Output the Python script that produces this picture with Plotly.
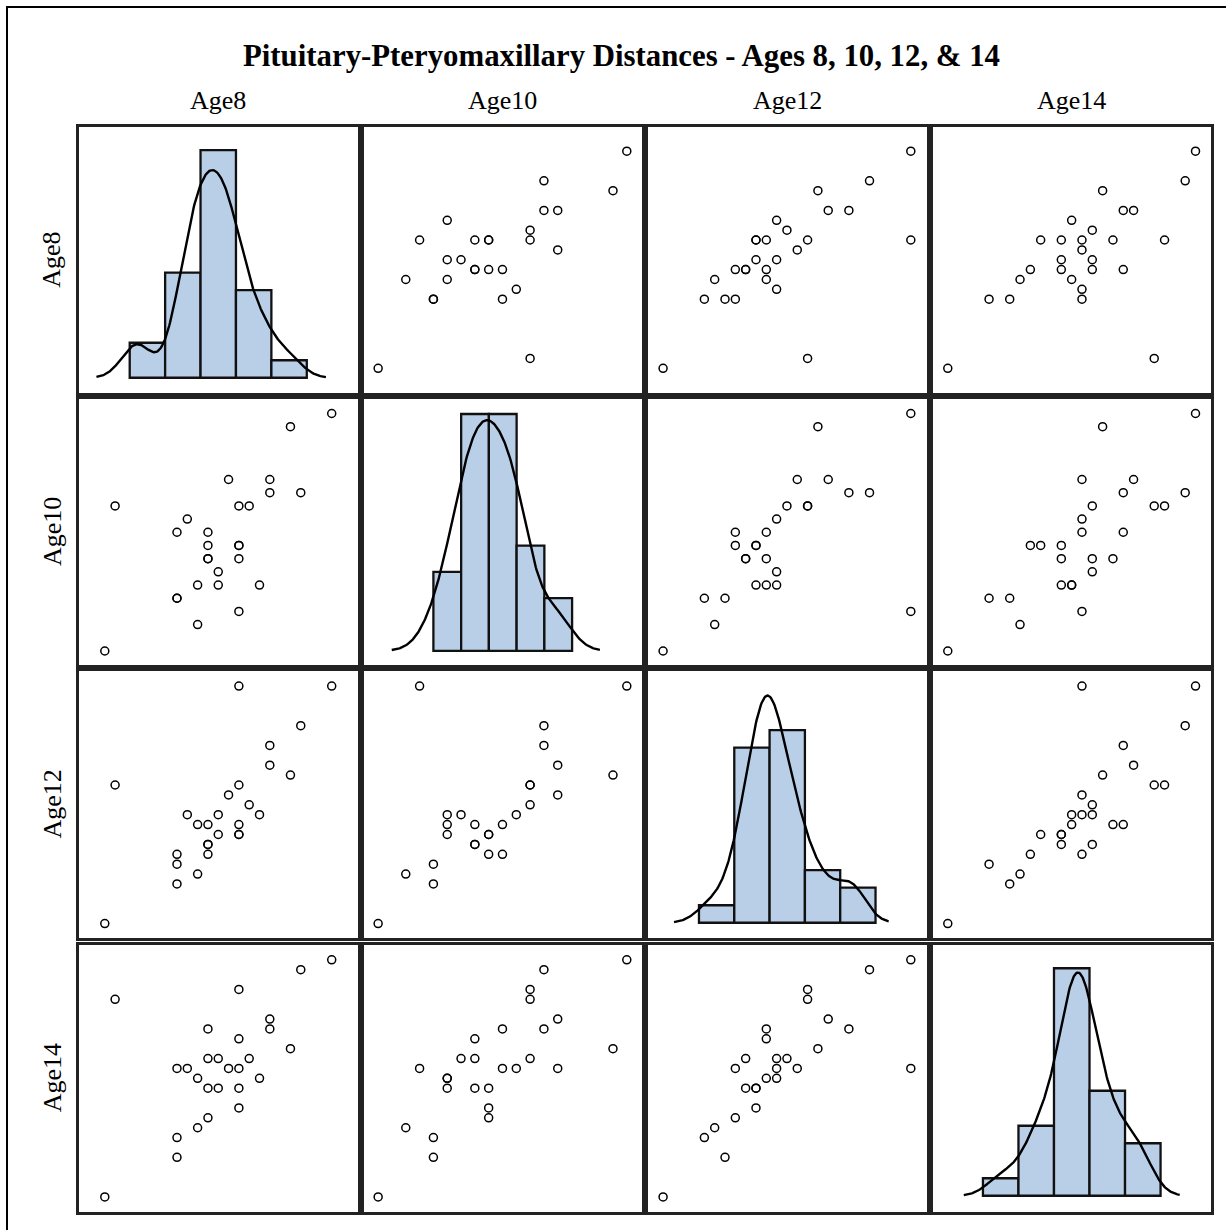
import numpy as np
import plotly.graph_objects as go

# ---- data (Potthoff & Roy pituitary-pteryomaxillary distances) ----
variables = ["Age8", "Age10", "Age12", "Age14"]
age8 = [21, 21, 20.5, 23.5, 21.5, 20, 21.5, 23, 20, 16.5, 24.5,
        26, 21.5, 23, 25.5, 20, 24.5, 22, 24, 23, 27.5, 23, 21.5, 17, 22.5, 23, 22]
age10 = [20, 21.5, 24, 24.5, 23, 21, 22.5, 23, 21, 19, 25,
         25, 22.5, 22.5, 27.5, 23.5, 25.5, 22, 21.5, 20.5, 28, 23, 23.5, 24.5, 25.5, 24.5, 21.5]
age12 = [21.5, 24, 24.5, 25, 22.5, 21, 23, 23.5, 22, 19, 28,
         29, 23, 24, 26.5, 22.5, 27, 24.5, 24.5, 31, 31, 23.5, 24, 26, 25.5, 26, 23.5]
age14 = [23, 25.5, 26, 26.5, 23.5, 22.5, 25, 24, 21.5, 19.5, 28,
         31, 26.5, 27.5, 27, 26, 28.5, 26.5, 25.5, 26, 31.5, 25, 28, 29.5, 26, 30, 25]
data = {"Age8": age8, "Age10": age10, "Age12": age12, "Age14": age14}

# histogram bins (start, width)
hist_bin_start = {"Age8": 16.25, "Age10": 19.0, "Age12": 18.0, "Age14": 18.0}
hist_bin_width = {"Age8": 2.5, "Age10": 2.0, "Age12": 3.0, "Age14": 3.0}
n_bins = 5

title_text = "Pituitary-Pteryomaxillary Distances - Ages 8, 10, 12, & 14"

# ---- layout geometry (pixels) ----
W, H = 1226, 1230
col_px = [(79, 357.5), (363.5, 642), (648, 926.5), (932.5, 1211)]
row_px = [(126.5, 393), (399, 665), (671, 938), (945, 1211.5)]

scatter_range = {"Age8": [15.25, 28.75], "Age10": [18.47, 28.55],
                 "Age12": [18.27, 31.76], "Age14": [18.76, 32.25]}
hist_xhalf = {"Age8": 9.83, "Age10": 10.04, "Age12": 11.83, "Age14": 11.76}
hist_yrange = {"Age8": [-0.87, 14.35], "Age10": [-0.54, 9.57],
               "Age12": [-0.87, 14.37], "Age14": [-0.9, 14.33]}

FILL = "#B9CEE7"
FONT = "Liberation Serif"

fig = go.Figure()
layout = dict(width=W, height=H, autosize=False,
              margin=dict(l=0, r=0, t=0, b=0),
              paper_bgcolor="white", plot_bgcolor="white",
              showlegend=False)


def bandwidth(vals):
    v = np.asarray(vals, float)
    n = len(v)
    q1 = np.percentile(v, 25, method="averaged_inverted_cdf")
    q3 = np.percentile(v, 75, method="averaged_inverted_cdf")
    s = min(v.std(ddof=1), (q3 - q1) / 1.34)
    return 1.06 * s * n ** (-0.2)


def kde(vals, grid, lam):
    v = np.asarray(vals, float)
    z = (grid[:, None] - v[None, :]) / lam
    return np.exp(-0.5 * z ** 2).sum(axis=1) / (len(v) * lam * np.sqrt(2 * np.pi))


for i, rv in enumerate(variables):
    for j, cv in enumerate(variables):
        k = i * 4 + j + 1
        xa = "x" if k == 1 else f"x{k}"
        ya = "y" if k == 1 else f"y{k}"
        xkey = "xaxis" if k == 1 else f"xaxis{k}"
        ykey = "yaxis" if k == 1 else f"yaxis{k}"
        x0, x1 = col_px[j]
        y0, y1 = row_px[i]
        axcommon = dict(showgrid=False, zeroline=False, showticklabels=False,
                        ticks="", showline=True, mirror=True,
                        linecolor="#222222", linewidth=2.5, fixedrange=True)
        if i == j:
            vals = np.asarray(data[cv], float)
            start = hist_bin_start[cv]
            bw = hist_bin_width[cv]
            edges = start + bw * np.arange(n_bins + 1)
            counts, _ = np.histogram(vals, bins=edges)
            centers = (edges[:-1] + edges[1:]) / 2
            fig.add_trace(go.Bar(x=centers, y=counts, width=bw,
                                 marker=dict(color=FILL,
                                             line=dict(color="#111111", width=2.3)),
                                 xaxis=xa, yaxis=ya, hoverinfo="skip"))
            lam = bandwidth(vals)
            grid = np.linspace(vals.min() - 2.54 * lam, vals.max() + 2.54 * lam, 300)
            dens = kde(vals, grid, lam)
            fig.add_trace(go.Scatter(x=grid, y=dens * len(vals) * bw, mode="lines",
                                     line=dict(color="black", width=2.4),
                                     xaxis=xa, yaxis=ya, hoverinfo="skip"))
            c = (edges[0] + edges[-1]) / 2
            xr = [c - hist_xhalf[cv], c + hist_xhalf[cv]]
            yr = hist_yrange[cv]
        else:
            fig.add_trace(go.Scatter(x=data[cv], y=data[rv], mode="markers",
                                     marker=dict(symbol="circle-open", size=8,
                                                 color="black",
                                                 line=dict(width=1.5, color="black")),
                                     xaxis=xa, yaxis=ya))
            xr = scatter_range[cv]
            yr = scatter_range[rv]
        layout[xkey] = dict(domain=[x0 / W, x1 / W], range=xr, anchor=ya, **axcommon)
        layout[ykey] = dict(domain=[1 - y1 / H, 1 - y0 / H], range=yr, anchor=xa, **axcommon)

annotations = [dict(text=f"<b>{title_text}</b>", x=621 / W, y=1 - 56 / H,
                    xref="paper", yref="paper", showarrow=False,
                    xanchor="center", yanchor="middle",
                    font=dict(family=FONT, size=30.8, color="black"))]
for j, cv in enumerate(variables):
    cx = (col_px[j][0] + col_px[j][1]) / 2
    annotations.append(dict(text=cv, x=cx / W, y=1 - 100 / H, xref="paper", yref="paper",
                            showarrow=False, xanchor="center", yanchor="middle",
                            font=dict(family=FONT, size=26, color="black")))
for i, rv in enumerate(variables):
    cy = (row_px[i][0] + row_px[i][1]) / 2
    annotations.append(dict(text=rv, x=52 / W, y=1 - cy / H, xref="paper", yref="paper",
                            showarrow=False, xanchor="center", yanchor="middle",
                            textangle=-90,
                            font=dict(family=FONT, size=26, color="black")))
layout["annotations"] = annotations
layout["shapes"] = [dict(type="rect", xref="paper", yref="paper",
                         x0=7 / W, x1=1.02, y0=-0.02, y1=1 - 7 / H,
                         line=dict(color="black", width=2), fillcolor="rgba(0,0,0,0)")]
fig.update_layout(**layout)
fig.write_html("out.html", config={"displayModeBar": False},
               post_script="document.body.style.margin='0px';document.body.style.overflow='hidden';")
